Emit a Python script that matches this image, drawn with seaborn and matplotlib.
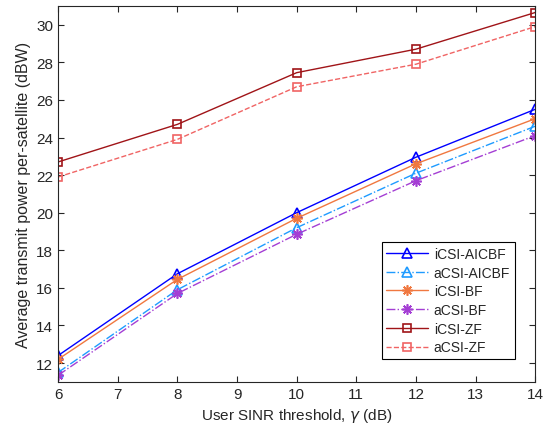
import matplotlib
matplotlib.use("Agg")
import matplotlib.pyplot as plt
import seaborn as sns
import pandas as pd

sinr = [6, 8, 10, 12, 14]
labels = ["iCSI-AICBF", "aCSI-AICBF", "iCSI-BF", "aCSI-BF", "iCSI-ZF", "aCSI-ZF"]
icsi_aicbf = [12.4, 16.75, 20.0, 22.95, 25.5]
acsi_aicbf = [11.5, 15.9, 19.2, 22.1, 24.6]
icsi_bf = [12.2, 16.45, 19.7, 22.6, 25.0]
acsi_bf = [11.35, 15.7, 18.85, 21.7, 24.1]
icsi_zf = [22.7, 24.7, 27.45, 28.7, 30.65]
acsi_zf = [21.9, 23.9, 26.7, 27.9, 29.9]
series = [icsi_aicbf, acsi_aicbf, icsi_bf, acsi_bf, icsi_zf, acsi_zf]

colors = ["#0000FF", "#1E9BFF", "#F07840", "#A43ED4", "#A01418", "#F06464"]
markers = ["^", "^", (8, 2, 0), (8, 2, 0), "s", "s"]
dashes = ["-", "-.", "-", "-.", "-", "--"]

sns.set_style("ticks")
plt.rcParams['font.family'] = ['Liberation Sans', 'DejaVu Sans']

fig = plt.figure(figsize=(5.54, 4.35), dpi=100)
ax = fig.add_axes([0.105, 0.120, 0.861, 0.864])

for lab, vals, c, m, ls in zip(labels, series, colors, markers, dashes):
    df = pd.DataFrame({"x": sinr, "y": vals})
    is_sq = (m == "s")
    sns.lineplot(data=df, x="x", y="y", ax=ax, color=c, linestyle=ls, marker=m,
                 markersize=6 if is_sq else 7.5, markerfacecolor="none",
                 markeredgecolor=c, markeredgewidth=1.2, linewidth=1.0, label=lab)

ax.set_xlim(6, 14)
ax.set_ylim(11, 31)
ax.set_xticks(range(6, 15))
ax.set_yticks(range(12, 31, 2))
ax.tick_params(direction="in", top=True, right=True, length=4, labelsize=11, color="#262626")
for s in ax.spines.values():
    s.set_color("#262626")
    s.set_linewidth(0.8)
    s.set_visible(True)
ax.set_xlabel("User SINR threshold, $\\gamma$ (dB)", fontsize=11)
ax.set_ylabel("Average transmit power per-satellite (dBW)", fontsize=11.5)
leg = ax.legend(loc="upper left", bbox_to_anchor=(0.678, 0.372), fontsize=10,
                frameon=True, fancybox=False, edgecolor="black", framealpha=1,
                handlelength=3.0, borderpad=0.35, labelspacing=0.34, handletextpad=0.4,
                borderaxespad=0)
leg.get_frame().set_linewidth(0.8)

fig.savefig("out.png", dpi=100)
